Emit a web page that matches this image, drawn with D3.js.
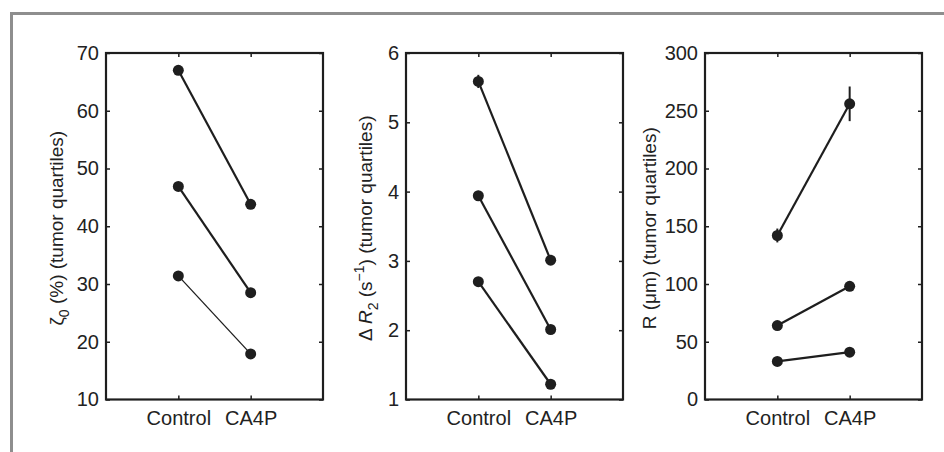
<!DOCTYPE html>
<style>
    body {
        margin: 0;
        background: #fff;
        font-family: 'Liberation Sans', Arial, sans-serif;
    }
</style>
<svg width="944" height="452"></svg>
<script src="https://d3js.org/d3.v7.min.js"></script>
<script>
    // data (low / mid / high quartile, Control then CA4P)
    var groups = ["Control", "CA4P"];

    var zetaLow = [31.4, 17.9], zetaMid = [46.9, 28.5], zetaHigh = [67.0, 43.8];
    var zetaErr = [[0.4, 0.3], [0.4, 0.3], [0.4, 0.3]];
    var zetaTicks = [10, 20, 30, 40, 50, 60, 70];

    var r2Low = [2.70, 1.22], r2Mid = [3.94, 2.01], r2High = [5.59, 3.01];
    var r2Err = [[0.065, 0.02], [0.07, 0.02], [0.095, 0.02]];
    var r2Ticks = [1, 2, 3, 4, 5, 6];

    var radLow = [33, 41], radMid = [64, 98], radHigh = [142, 256];
    var radErr = [[2, 2], [2, 3], [6, 15]];
    var radTicks = [0, 50, 100, 150, 200, 250, 300];

    var svg = d3.select("svg");

    // grey frame around the figure
    svg.append("path")
        .attr("d", "M11.5,452V13.5H944")
        .attr("fill", "none")
        .attr("stroke", "#8e8e8e")
        .attr("stroke-width", 3);

    var plotTop = 53, plotBottom = 399.5, pw = 217, tick = 4;
    var ink = "#1e1e1e";
    var fs = 20;

    var panels = [
        {left: 106, domain: [10, 70], ticks: zetaTicks, series: [zetaLow, zetaMid, zetaHigh], err: zetaErr,
            widths: [1.3, 2.2, 2.2], labelX: 56, label: "zeta"},
        {left: 406, domain: [1, 6], ticks: r2Ticks, series: [r2Low, r2Mid, r2High], err: r2Err,
            widths: [2.2, 2.2, 2.2], labelX: 365, label: "r2"},
        {left: 705, domain: [0, 300], ticks: radTicks, series: [radLow, radMid, radHigh], err: radErr,
            widths: [2.2, 2.2, 2.2], labelX: 649, label: "rad"}
    ];

    panels.forEach(function (p) {
        var x = d3.scaleLinear().domain([0, 3]).range([p.left, p.left + pw]);
        var y = d3.scaleLinear().domain(p.domain).range([plotBottom, plotTop]);
        var g = svg.append("g");

        // axes: ticks pointing inward on all four sides
        var yl = g.append("g")
            .attr("transform", "translate(" + p.left + ",0)")
            .call(d3.axisLeft(y).tickValues(p.ticks).tickSize(-tick).tickPadding(7)
                .tickFormat(function (d) { return d; }).tickSizeOuter(0));
        var yr = g.append("g")
            .attr("transform", "translate(" + (p.left + pw) + ",0)")
            .call(d3.axisRight(y).tickValues(p.ticks).tickSize(-tick).tickFormat("").tickSizeOuter(0));
        var xb = g.append("g")
            .attr("transform", "translate(0," + plotBottom + ")")
            .call(d3.axisBottom(x).tickValues([1, 2]).tickSize(-tick).tickPadding(11)
                .tickFormat(function (d) { return groups[d - 1]; }).tickSizeOuter(0));
        var xt = g.append("g")
            .attr("transform", "translate(0," + plotTop + ")")
            .call(d3.axisTop(x).tickValues([1, 2]).tickSize(-tick).tickFormat("").tickSizeOuter(0));

        [yl, yr, xb, xt].forEach(function (a) {
            a.select(".domain").remove();
            a.selectAll("line").attr("stroke", ink).attr("stroke-width", 1.5);
            a.selectAll("text").attr("font-size", fs).attr("fill", "#222")
                .attr("font-family", "'Liberation Sans', Arial, sans-serif");
        });

        g.append("rect")
            .attr("x", p.left).attr("y", plotTop)
            .attr("width", pw).attr("height", plotBottom - plotTop)
            .attr("fill", "none")
            .attr("stroke", ink)
            .attr("stroke-width", 2.2);

        // quartile lines, error bars and markers
        p.series.forEach(function (vals, i) {
            g.append("line")
                .attr("x1", x(1)).attr("y1", y(vals[0]))
                .attr("x2", x(2)).attr("y2", y(vals[1]))
                .attr("stroke", ink)
                .attr("stroke-width", p.widths[i]);

            vals.forEach(function (v, j) {
                var e = p.err[i][j];
                g.append("line")
                    .attr("x1", x(j + 1)).attr("x2", x(j + 1))
                    .attr("y1", y(v - e)).attr("y2", y(v + e))
                    .attr("stroke", ink)
                    .attr("stroke-width", 2);
                g.append("circle")
                    .attr("cx", x(j + 1)).attr("cy", y(v))
                    .attr("r", 5.5)
                    .attr("fill", ink);
            });
        });

        // rotated y label
        var cy = (plotTop + plotBottom) / 2 + 2;
        var t = g.append("text")
            .attr("transform", "translate(" + p.labelX + "," + cy + ") rotate(-90)")
            .attr("text-anchor", "middle")
            .attr("dy", "0.35em")
            .attr("font-size", 19)
            .attr("fill", "#222");
        if (p.label === "zeta") {
            t.append("tspan").text("ζ");
            t.append("tspan").attr("font-size", 14).attr("dy", 6).text("0");
            t.append("tspan").attr("dy", -6).text(" (%) (tumor quartiles)");
        } else if (p.label === "r2") {
            t.append("tspan").text("Δ ");
            t.append("tspan").attr("font-style", "italic").text("R");
            t.append("tspan").attr("font-size", 14).attr("dy", 6).text("2");
            t.append("tspan").attr("dy", -6).text(" (s");
            t.append("tspan").attr("font-size", 14).attr("dy", -8).text("−1");
            t.append("tspan").attr("dy", 8).text(") (tumor quartiles)");
        } else {
            t.text("R (μm) (tumor quartiles)");
        }
    });
</script>
